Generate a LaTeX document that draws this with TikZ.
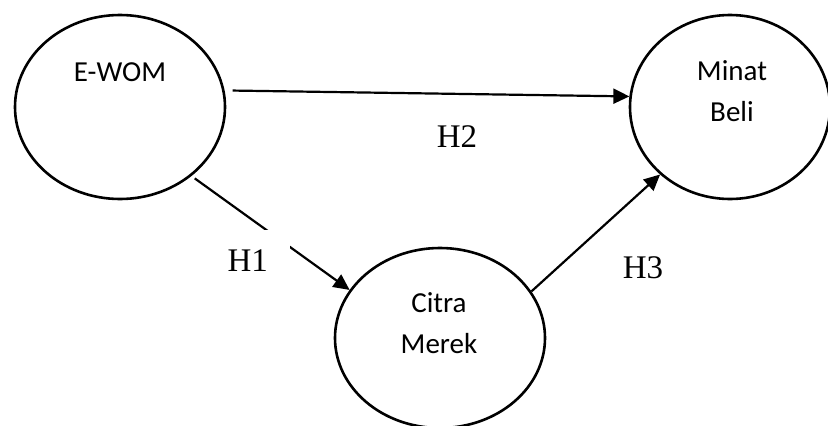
\documentclass[tikz,border=0pt]{standalone}
\usepackage{fontspec}
\setmainfont{Liberation Serif}
\setsansfont{Carlito}
\usetikzlibrary{shapes.geometric,arrows.meta}
\tikzset{
  var/.style={ellipse, draw, line width=2.6pt, inner sep=0pt},
  vartext/.style={align=center, font=\sffamily\fontsize{29}{41}\selectfont},
  hyp/.style={font=\fontsize{33}{38}\selectfont},
  path/.style={line width=2.2pt, -{Triangle[length=16pt,width=15pt]}}
}
\begin{document}
\begin{tikzpicture}[x=1pt,y=-1pt]
            \useasboundingbox (0,0) rectangle (828,426);
            \node[var, minimum width=210pt, minimum height=184pt] (ewom) at (120,107) {};
            \node[var, minimum width=200pt, minimum height=184pt] (minat) at (730,107) {};
            \node[var, minimum width=210pt, minimum height=180pt] (citra) at (440,338) {};
            \node[vartext] (ewomtext) at (120,72) {E-WOM};
            \node[vartext] (minattext) at (732,91) {Minat\\Beli};
            \node[vartext] (citratext) at (439,323) {Citra\\Merek};
            \draw[path, shorten <=8pt] (ewom.9) -- (minat.174);
            \draw[path, shorten <=4pt] (ewom.-44) -- (citra.152);
            \draw[path] (citra.27) -- (minat.224);
            \node[hyp] (h2) at (457,137) {H2};
            \node[hyp, fill=white, anchor=north east, minimum width=84pt, minimum height=60pt, inner sep=0pt] (h1) at (290,230) {H1};
            \node[hyp] (h3) at (643,268) {H3};
\end{tikzpicture}
\end{document}
